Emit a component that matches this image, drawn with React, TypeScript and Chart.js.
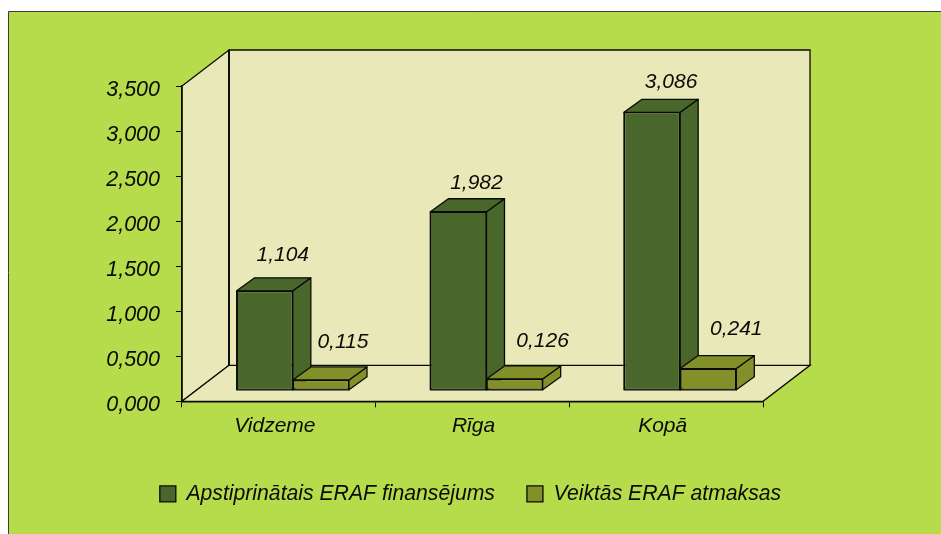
import React, { useEffect, useRef } from "react";
import { Chart, registerables } from "chart.js";

Chart.register(...registerables);

const categories = ["Vidzeme", "Rīga", "Kopā"];
const approvedFunding = [1.104, 1.982, 3.086];
const repayments = [0.115, 0.126, 0.241];
const seriesNames = ["Apstiprinātais ERAF finansējums", "Veiktās ERAF atmaksas"];

const FONT = "'Liberation Sans', Arial, sans-serif";
const INK = "#0b0b06";
const BG = "#b6db4b";
const WALL = "#e8e8b8";
const DARK = "#4a672b";
const OLIVE = "#82902a";

const WALL_DX = 47, WALL_DY = -36;
const BAR_SHIFT_X = 14, BAR_SHIFT_Y = -11;
const BAR_DX = 18, BAR_DY = -13;
const LABEL_NUDGE = [
  [[0, -23], [0, -16], [1, -17]],
  [[4, -25], [10, -25], [10, -26]],
];
const X_TICK_NUDGE = [-4, 1, -3.5];
const Y_TICK_NUDGE = 4;

const fmt = (v: number) => v.toFixed(3).replace(".", ",");

const scene = {
  id: "scene",
  beforeDraw(chart: any) {
    const { ctx, chartArea: a, width, height } = chart;
    chart.scales.y.getLabelItems(a).forEach((it: any) => {
      if (!it.nudged) { it.options.translation[1] += Y_TICK_NUDGE; it.nudged = true; }
    });
    chart.scales.x.getLabelItems(a).forEach((it: any, i: number) => {
      if (!it.nudged) { it.options.translation[0] += X_TICK_NUDGE[i]; it.nudged = true; }
    });

    ctx.save();
    ctx.fillStyle = BG;
    ctx.fillRect(9, 12, width - 9, height - 12);
    ctx.strokeStyle = "#3c3c3c";
    ctx.lineWidth = 1;
    ctx.beginPath();
    ctx.moveTo(8.5, height);
    ctx.lineTo(8.5, 11.5);
    ctx.lineTo(width, 11.5);
    ctx.stroke();

    const L = a.left, R = a.right, T = a.top, B = a.bottom;
    const poly = (pts: number[][]) => {
      ctx.beginPath();
      pts.forEach((p, i) => (i ? ctx.lineTo(p[0], p[1]) : ctx.moveTo(p[0], p[1])));
      ctx.closePath();
      ctx.fill();
      ctx.stroke();
    };
    ctx.fillStyle = WALL;
    ctx.strokeStyle = INK;
    ctx.lineWidth = 1.3;
    ctx.lineJoin = "miter";
    poly([[L, T], [L + WALL_DX, T + WALL_DY], [L + WALL_DX, B + WALL_DY], [L, B]]);
    poly([[L, B], [L + WALL_DX, B + WALL_DY], [R + WALL_DX, B + WALL_DY], [R, B]]);
    poly([[L + WALL_DX, T + WALL_DY], [R + WALL_DX, T + WALL_DY], [R + WALL_DX, B + WALL_DY], [L + WALL_DX, B + WALL_DY]]);
    ctx.lineWidth = 1.8;
    ctx.beginPath();
    ctx.moveTo(L + WALL_DX, T + WALL_DY);
    ctx.lineTo(L + WALL_DX, B + WALL_DY);
    ctx.stroke();
    ctx.restore();
  },
  beforeDatasetDraw() {
    return false;
  },
  afterDatasetsDraw(chart: any) {
    const { ctx } = chart;
    chart.data.datasets.forEach((ds: any, di: number) => {
      const meta = chart.getDatasetMeta(di);
      ctx.save();
      ctx.translate(BAR_SHIFT_X, BAR_SHIFT_Y);
      meta.controller.draw();
      ctx.fillStyle = ds.backgroundColor;
      ctx.strokeStyle = INK;
      ctx.lineWidth = 1.3;
      ctx.lineJoin = "round";
      meta.data.forEach((bar: any) => {
        const { x, y, base, width } = bar.getProps(["x", "y", "base", "width"], true);
        const l = x - width / 2, r = x + width / 2;
        ctx.strokeRect(l, y, width, base - y);
        ctx.beginPath();
        ctx.moveTo(r, y);
        ctx.lineTo(r + BAR_DX, y + BAR_DY);
        ctx.lineTo(r + BAR_DX, base + BAR_DY);
        ctx.lineTo(r, base);
        ctx.closePath();
        ctx.fill();
        ctx.stroke();
        ctx.beginPath();
        ctx.moveTo(l, y);
        ctx.lineTo(l + BAR_DX, y + BAR_DY);
        ctx.lineTo(r + BAR_DX, y + BAR_DY);
        ctx.lineTo(r, y);
        ctx.closePath();
        ctx.fill();
        ctx.stroke();
      });
      ctx.restore();
    });
    ctx.save();
    ctx.font = `italic 21px ${FONT}`;
    ctx.fillStyle = INK;
    ctx.textAlign = "center";
    ctx.textBaseline = "middle";
    chart.data.datasets.forEach((ds: any, di: number) => {
      chart.getDatasetMeta(di).data.forEach((bar: any, i: number) => {
        const { x, y } = bar.getProps(["x", "y"], true);
        const [nx, ny] = LABEL_NUDGE[di][i];
        ctx.fillText(fmt(ds.data[i]), x + BAR_SHIFT_X + BAR_DX + nx, y + BAR_SHIFT_Y + BAR_DY + ny);
      });
    });
    ctx.restore();
  },
};

export default function App() {
  const ref = useRef<HTMLCanvasElement>(null);
  useEffect(() => {
    const chart = new Chart(ref.current as HTMLCanvasElement, {
      type: "bar",
      data: {
        labels: categories,
        datasets: [
          { label: seriesNames[0], data: approvedFunding, backgroundColor: DARK, borderColor: INK, borderWidth: 1.3, borderSkipped: false },
          { label: seriesNames[1], data: repayments, backgroundColor: OLIVE, borderColor: INK, borderWidth: 1.3, borderSkipped: false },
        ],
      },
      options: {
        responsive: false,
        animation: false,
        layout: { padding: { left: 0, right: 0, top: 86, bottom: 19.5 } },
        datasets: { bar: { categoryPercentage: 0.58, barPercentage: 1 } },
        scales: {
          x: {
            afterFit: (s: any) => { s.height = 50; },
            grid: { drawOnChartArea: false, drawTicks: true, tickLength: 6, color: INK, lineWidth: 1 },
            border: { display: true, color: INK, width: 1.5 },
            ticks: { color: INK, font: { family: FONT, size: 21, style: "italic" }, padding: 6, maxRotation: 0 },
          },
          y: {
            min: 0,
            max: 3.5,
            afterFit: (s: any) => { s.width = 182; },
            grid: { drawOnChartArea: false, drawTicks: true, tickLength: 6, color: INK, lineWidth: 1 },
            border: { display: true, color: INK, width: 1.5 },
            ticks: { stepSize: 0.5, color: INK, font: { family: FONT, size: 21.5, style: "italic" }, padding: 16, callback: (v: any) => fmt(Number(v)) },
          },
          rightMargin: {
            type: "linear",
            position: "right",
            afterFit: (s: any) => { s.width = 178; },
            grid: { display: false },
            border: { display: false },
            ticks: { display: false },
          },
        },
        plugins: {
          tooltip: { enabled: false },
          legend: {
            position: "bottom",
            labels: {
              boxWidth: 16,
              boxHeight: 16,
              padding: 32,
              color: INK,
              font: { family: FONT, size: 21.2, style: "italic" },
            },
          },
        },
      } as any,
      plugins: [scene],
    });
    return () => chart.destroy();
  }, []);
  return (
    <canvas
      ref={ref}
      width={941}
      height={534}
      style={{ position: "absolute", left: 0, top: 0, display: "block" }}
    />
  );
}
